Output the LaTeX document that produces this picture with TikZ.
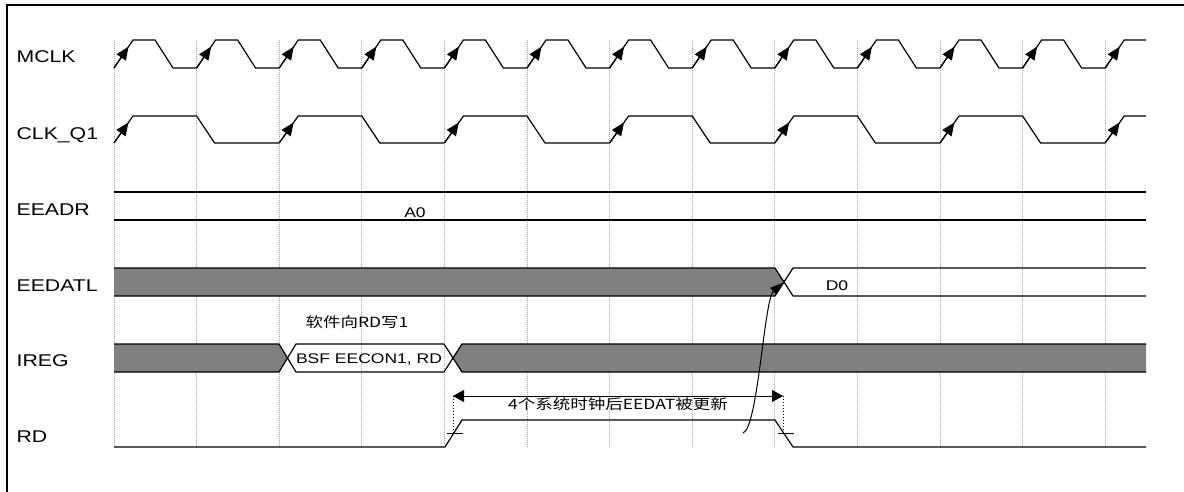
\documentclass[tikz,border=0pt]{standalone}
\usepackage{fontspec}
\setmainfont[FakeStretch=1.25]{Liberation Sans}
\newfontfamily\cjk[FakeStretch=1.25]{Noto Sans CJK SC}
\usetikzlibrary{arrows.meta}
\begin{document}
\begin{tikzpicture}[x=1pt,y=-1pt,line width=1.2pt]
\tikzstyle{every node}=[inner sep=0pt]
\tikzstyle{signame}=[anchor=base west, font=\fontsize{17}{17}\selectfont]
\tikzstyle{val}=[anchor=base, font=\fontsize{14}{14}\selectfont]
\tikzstyle{grid}=[line width=0.8pt, black!35, dash pattern=on 1pt off 1pt]
\tikzstyle{edge}=[-{Triangle[length=13pt,width=11pt]}]
\tikzstyle{dim}=[{Triangle[length=11pt,width=12pt]}-{Triangle[length=11pt,width=12pt]}, line width=1pt]
\tikzstyle{tick}=[line width=1pt]

\useasboundingbox (0,0) rectangle (1184,492);
\draw[line width=1.5pt] (7,492) -- (7,5) -- (1184,5);

\foreach \k in {0,...,12} \draw[grid] ({114+82.6*\k},40) -- ({114+82.6*\k},447);

\node[signame] (lmclk)   at (16,63)  {MCLK};
\node[signame] (lclk)    at (16,140) {CLK\_Q1};
\node[signame] (leeadr)  at (16,215) {EEADR};
\node[signame] (leedatl) at (16,291) {EEDATL};
\node[signame] (lireg)   at (16,366) {IREG};
\node[signame] (lrd)     at (16,442) {RD};

\foreach \k in {0,...,11} {
  \pgfmathsetmacro\xa{114+82.6*\k}
  \draw (\xa,68) -- (\xa+19,40) -- (\xa+41,40) -- (\xa+59,68) -- (\xa+82.6,68);
  \draw[edge] (\xa,68) -- (\xa+14.5,46.7);
}
\draw (1105.2,68) -- (1124.2,40) -- (1146,40);
\draw[edge] (1105.2,68) -- (1119.7,46.7);

\foreach \k in {0,2,...,10} {
  \pgfmathsetmacro\xa{114+82.6*\k}
  \draw (\xa,143) -- (\xa+19,116) -- (\xa+82.6,116) -- (\xa+100.6,143) -- (\xa+165.2,143);
  \draw[edge] (\xa,143) -- (\xa+14.4,122.5);
}
\draw (1105.2,143) -- (1124.2,116) -- (1146,116);
\draw[edge] (1105.2,143) -- (1119.6,122.5);

\draw (114,192) -- (1146,192);
\draw (114,220) -- (1146,220);
\node[val] (ta0) at (415,217) {A0};

\fill[gray] (114,268) -- (775,268) -- (784,282) -- (775,296) -- (114,296) -- cycle;
\draw (114,268) -- (775,268) -- (793,296) -- (1146,296);
\draw (114,296) -- (775,296) -- (793,268) -- (1146,268);
\node[val] (td0) at (837,290) {D0};

\node[val] (tsoft) at (357,327) {\cjk 软件向RD写1};
\fill[gray] (114,344) -- (279,344) -- (287.5,358) -- (279,372) -- (114,372) -- cycle;
\fill[gray] (1146,344) -- (462,344) -- (453,358) -- (462,372) -- (1146,372) -- cycle;
\draw (114,344) -- (279,344) -- (296,372) -- (444,372) -- (462,344) -- (1146,344);
\draw (114,372) -- (279,372) -- (296,344) -- (444,344) -- (462,372) -- (1146,372);
\node[val] (tbsf) at (369,363) {BSF EECON1, RD};

\draw (114,447) -- (445,447) -- (462,420) -- (775,420) -- (793,447) -- (1146,447);
\draw[tick] (447,433) -- (463,433);
\draw[tick] (778,433) -- (794,433);
\coordinate (dl) at (453,396);
\coordinate (dr) at (783,396);
\coordinate (dlb) at (453,433);
\coordinate (drb) at (783,433);
\draw[dotted, line width=1pt] (dl) -- (dlb);
\draw[dotted, line width=1pt] (dr) -- (drb);
\draw[dim] (dl) -- (dr);
\node[val] (tdelay) at (618,409) {\cjk 4个系统时钟后EEDAT被更新};

\coordinate (cs) at (743,433);
\coordinate (cx) at (782,283);
\draw[-{Triangle[length=12pt,width=9pt]}, line width=1pt] (cs) .. controls (758,428) and (764,300) .. (cx);
\end{tikzpicture}
\end{document}
